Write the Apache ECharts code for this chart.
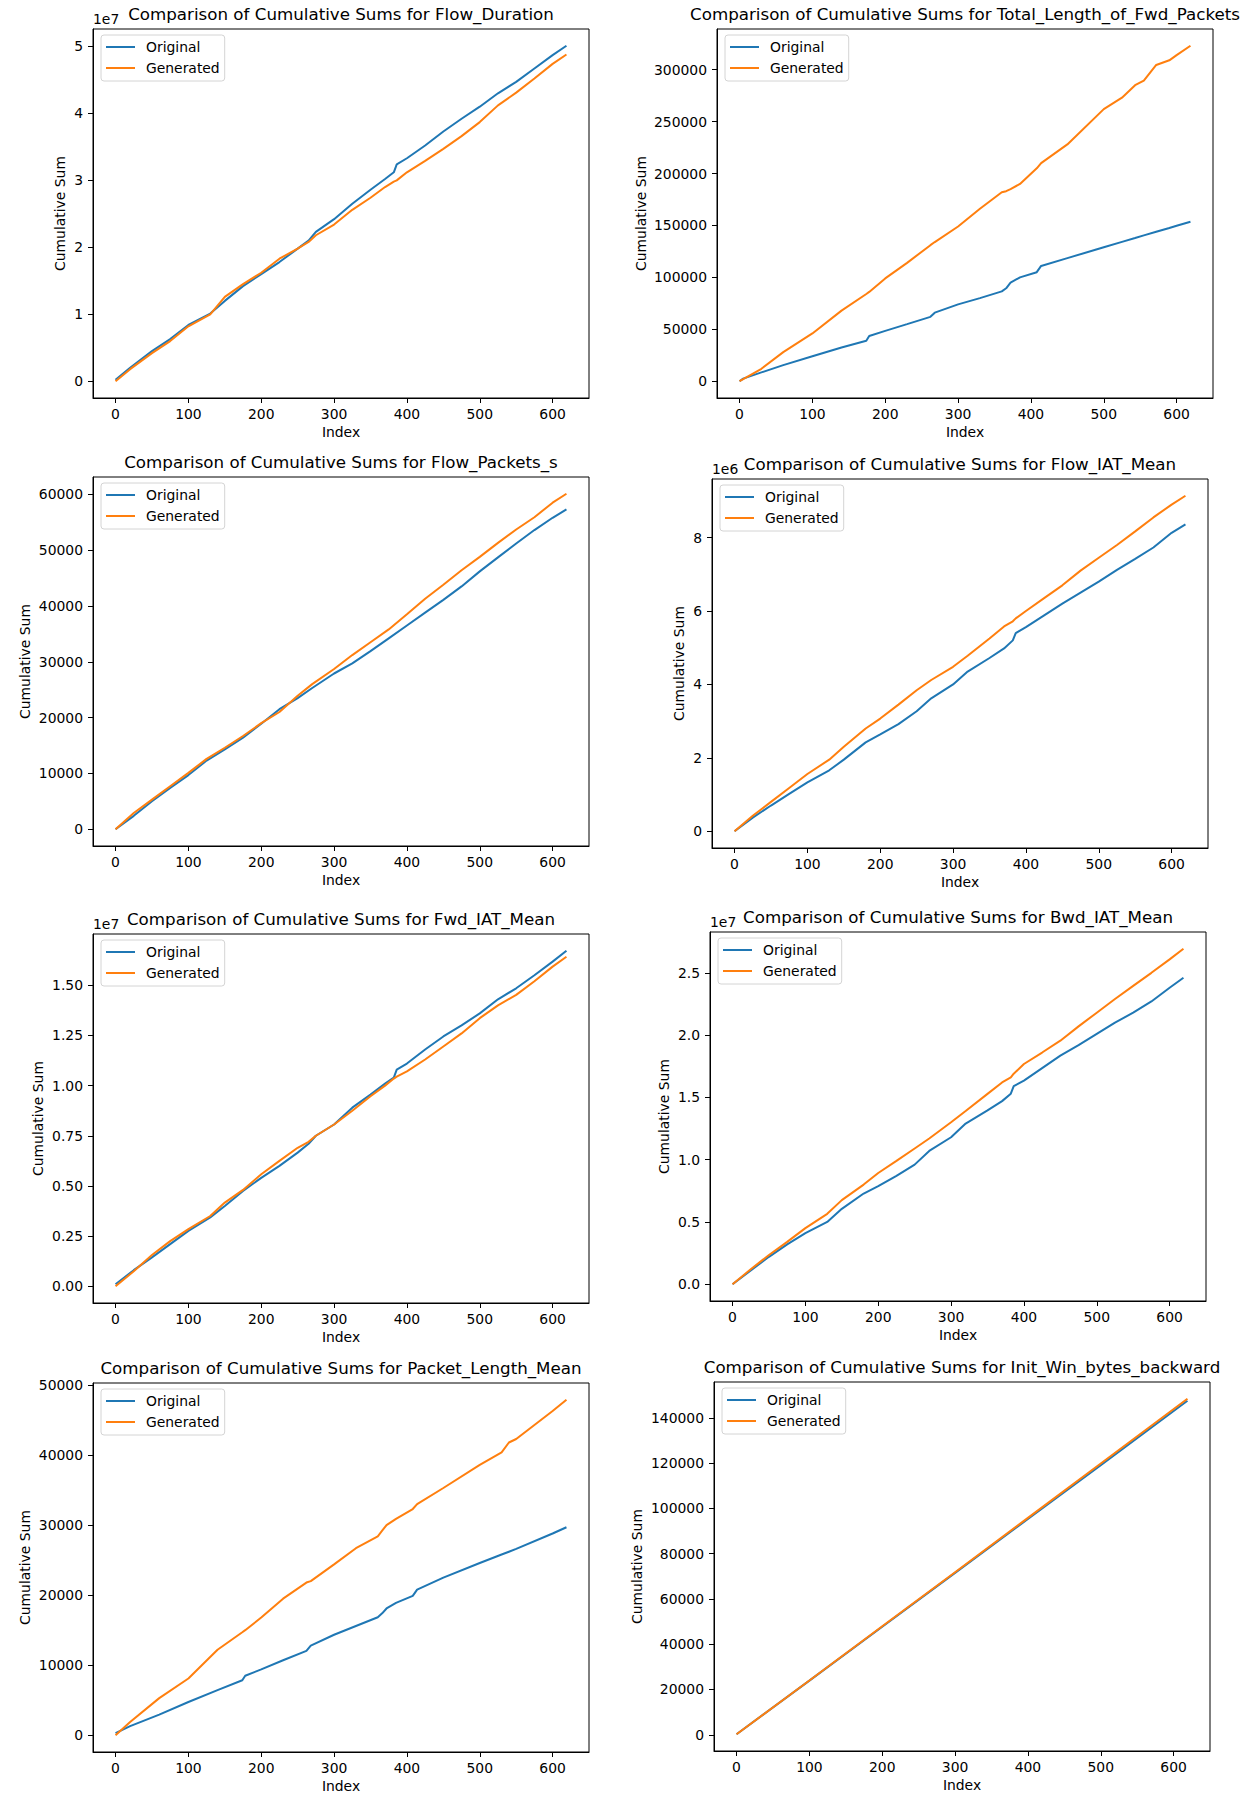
<!DOCTYPE html>
<html lang="en">
<head>
    <meta charset="UTF-8">
    <title>Comparison of Cumulative Sums</title>
    <script src="https://cdn.jsdelivr.net/npm/echarts@6.0.0/dist/echarts.min.js"></script>
    <style>
        body { margin: 0; background: #fff; }
        #main { width: 1254px; height: 1802px; }
    </style>
</head>
<body>
    <div id="main"></div>
    <script type="text/javascript">
        // values (index -> cumulative sum)
        const xTicks = [0, 100, 200, 300, 400, 500, 600];
        const lastIndex = 619;

        const flowDurationIdx = [0, 20, 50, 75, 100, 130, 150, 175, 200, 225, 250, 265, 275, 300, 325, 350, 370, 382, 386, 400, 425, 450, 475, 500, 525, 550, 575, 600, 619];
        const flowDurationOrig = [0.02e7, 0.2e7, 0.45e7, 0.63e7, 0.84e7, 1.01e7, 1.2e7, 1.42e7, 1.6e7, 1.78e7, 1.98e7, 2.1e7, 2.23e7, 2.42e7, 2.65e7, 2.86e7, 3.02e7, 3.12e7, 3.24e7, 3.33e7, 3.52e7, 3.73e7, 3.92e7, 4.1e7, 4.3e7, 4.47e7, 4.67e7, 4.87e7, 5.01e7];
        const flowDurationGen = [0, 0.18e7, 0.42e7, 0.6e7, 0.82e7, 1.0e7, 1.26e7, 1.45e7, 1.62e7, 1.83e7, 1.98e7, 2.08e7, 2.18e7, 2.34e7, 2.56e7, 2.74e7, 2.9e7, 2.98e7, 3.0e7, 3.12e7, 3.29e7, 3.47e7, 3.66e7, 3.87e7, 4.12e7, 4.31e7, 4.52e7, 4.74e7, 4.88e7];
        const flowDurationTicks = [0, 1e7, 2e7, 3e7, 4e7, 5e7];

        const fwdLenIdx = [0, 5, 30, 60, 100, 140, 174, 178, 200, 230, 262, 268, 300, 330, 360, 366, 372, 385, 408, 414, 450, 500, 525, 543, 555, 572, 590, 600, 619];
        const fwdLenOrig = [0, 2500, 8500, 15500, 24000, 32500, 39000, 43500, 48500, 55000, 62000, 66000, 74000, 80000, 86500, 89500, 95000, 100000, 105000, 111000, 118500, 129000, 134200, 137900, 140400, 143900, 147600, 149700, 153500];
        const fwdLenGen = [0, 2000, 12000, 28000, 46000, 68000, 84000, 86000, 99000, 114000, 131000, 134000, 149000, 166000, 182000, 183000, 185000, 190000, 205000, 210000, 228000, 262000, 273000, 285000, 289500, 304500, 309000, 314000, 323000];
        const fwdLenTicks = [0, 50000, 100000, 150000, 200000, 250000, 300000];

        const pktRateIdx = [0, 25, 50, 75, 100, 125, 150, 175, 200, 225, 250, 270, 300, 325, 350, 375, 400, 425, 450, 475, 500, 525, 550, 575, 600, 619];
        const pktRateOrig = [0, 2400, 5000, 7400, 9700, 12300, 14300, 16400, 18900, 21500, 23500, 25300, 27900, 29700, 31900, 34200, 36500, 38800, 41100, 43500, 46200, 48700, 51200, 53600, 55800, 57300];
        const pktRateGen = [0, 2900, 5300, 7700, 10100, 12600, 14600, 16700, 19000, 21000, 23900, 26000, 28700, 31200, 33500, 35800, 38500, 41300, 43800, 46400, 48800, 51300, 53700, 55900, 58500, 60100];
        const pktRateTicks = [0, 10000, 20000, 30000, 40000, 50000, 60000];

        const flowIatIdx = [0, 25, 50, 75, 100, 130, 150, 180, 200, 225, 250, 270, 300, 320, 350, 370, 382, 386, 400, 425, 450, 475, 500, 525, 550, 575, 600, 619];
        const flowIatOrig = [0, 0.37e6, 0.70e6, 1.02e6, 1.33e6, 1.66e6, 1.95e6, 2.42e6, 2.64e6, 2.92e6, 3.27e6, 3.62e6, 4.0e6, 4.35e6, 4.72e6, 4.98e6, 5.2e6, 5.4e6, 5.56e6, 5.88e6, 6.2e6, 6.5e6, 6.8e6, 7.12e6, 7.42e6, 7.73e6, 8.13e6, 8.36e6];
        const flowIatGen = [0, 0.42e6, 0.80e6, 1.18e6, 1.56e6, 1.95e6, 2.3e6, 2.8e6, 3.07e6, 3.45e6, 3.84e6, 4.12e6, 4.48e6, 4.78e6, 5.25e6, 5.58e6, 5.72e6, 5.8e6, 6.0e6, 6.35e6, 6.7e6, 7.1e6, 7.45e6, 7.8e6, 8.17e6, 8.55e6, 8.9e6, 9.14e6];
        const flowIatTicks = [0, 2e6, 4e6, 6e6, 8e6];

        const fwdIatIdx = [0, 25, 50, 75, 100, 130, 150, 175, 200, 225, 250, 265, 275, 300, 325, 350, 370, 382, 386, 400, 425, 450, 475, 500, 525, 550, 575, 600, 619];
        const fwdIatOrig = [0.01e7, 0.08e7, 0.144e7, 0.21e7, 0.276e7, 0.343e7, 0.40e7, 0.475e7, 0.54e7, 0.6e7, 0.666e7, 0.71e7, 0.75e7, 0.806e7, 0.89e7, 0.955e7, 1.01e7, 1.04e7, 1.08e7, 1.11e7, 1.18e7, 1.245e7, 1.3e7, 1.36e7, 1.43e7, 1.485e7, 1.55e7, 1.618e7, 1.672e7];
        const fwdIatGen = [0, 0.075e7, 0.156e7, 0.225e7, 0.285e7, 0.35e7, 0.417e7, 0.48e7, 0.558e7, 0.625e7, 0.69e7, 0.72e7, 0.75e7, 0.806e7, 0.875e7, 0.947e7, 1.0e7, 1.035e7, 1.045e7, 1.071e7, 1.13e7, 1.195e7, 1.26e7, 1.336e7, 1.4e7, 1.452e7, 1.52e7, 1.593e7, 1.642e7];
        const fwdIatTicks = [0, 0.25e7, 0.5e7, 0.75e7, 1.0e7, 1.25e7, 1.5e7];

        const bwdIatIdx = [0, 25, 50, 75, 100, 130, 150, 180, 200, 225, 250, 270, 300, 320, 350, 370, 382, 386, 400, 425, 450, 475, 500, 525, 550, 575, 600, 619];
        const bwdIatOrig = [0, 0.11e7, 0.22e7, 0.32e7, 0.41e7, 0.50e7, 0.605e7, 0.728e7, 0.787e7, 0.87e7, 0.96e7, 1.07e7, 1.18e7, 1.29e7, 1.395e7, 1.47e7, 1.53e7, 1.59e7, 1.635e7, 1.735e7, 1.835e7, 1.92e7, 2.01e7, 2.1e7, 2.18e7, 2.27e7, 2.38e7, 2.46e7];
        const bwdIatGen = [0, 0.12e7, 0.235e7, 0.34e7, 0.45e7, 0.565e7, 0.675e7, 0.8e7, 0.893e7, 0.99e7, 1.09e7, 1.17e7, 1.30e7, 1.39e7, 1.528e7, 1.62e7, 1.66e7, 1.69e7, 1.768e7, 1.86e7, 1.955e7, 2.07e7, 2.18e7, 2.29e7, 2.395e7, 2.5e7, 2.608e7, 2.693e7];
        const bwdIatTicks = [0, 0.5e7, 1.0e7, 1.5e7, 2.0e7, 2.5e7];

        const pktLenIdx = [0, 20, 60, 100, 140, 174, 178, 200, 230, 262, 268, 300, 330, 360, 366, 372, 385, 408, 414, 450, 500, 530, 540, 550, 600, 619];
        const pktLenOrig = [300, 1300, 2950, 4750, 6450, 7850, 8500, 9400, 10700, 12050, 12800, 14350, 15600, 16850, 17400, 18100, 18900, 19900, 20800, 22500, 24600, 25800, 26200, 26600, 28800, 29700];
        const pktLenGen = [0, 1900, 5300, 8100, 12200, 14700, 15000, 16800, 19500, 21800, 22000, 24400, 26700, 28400, 29200, 30000, 30900, 32300, 33000, 35300, 38600, 40400, 41800, 42300, 46300, 47900];
        const pktLenTicks = [0, 10000, 20000, 30000, 40000, 50000];

        const initWinIdx = [0, 100, 200, 300, 400, 500, 619];
        const initWinOrig = [240, 23900, 47700, 71500, 95300, 119100, 147500];
        const initWinGen = [240, 24000, 47900, 71800, 95800, 119800, 148400];
        const initWinTicks = [0, 20000, 40000, 60000, 80000, 100000, 120000, 140000];

        const panels = [
            { name: 'Flow_Duration', idx: flowDurationIdx, orig: flowDurationOrig, gen: flowDurationGen, ticks: flowDurationTicks, exp: 7, dec: 0 },
            { name: 'Total_Length_of_Fwd_Packets', idx: fwdLenIdx, orig: fwdLenOrig, gen: fwdLenGen, ticks: fwdLenTicks, exp: 0, dec: 0 },
            { name: 'Flow_Packets_s', idx: pktRateIdx, orig: pktRateOrig, gen: pktRateGen, ticks: pktRateTicks, exp: 0, dec: 0 },
            { name: 'Flow_IAT_Mean', idx: flowIatIdx, orig: flowIatOrig, gen: flowIatGen, ticks: flowIatTicks, exp: 6, dec: 0 },
            { name: 'Fwd_IAT_Mean', idx: fwdIatIdx, orig: fwdIatOrig, gen: fwdIatGen, ticks: fwdIatTicks, exp: 7, dec: 2 },
            { name: 'Bwd_IAT_Mean', idx: bwdIatIdx, orig: bwdIatOrig, gen: bwdIatGen, ticks: bwdIatTicks, exp: 7, dec: 1 },
            { name: 'Packet_Length_Mean', idx: pktLenIdx, orig: pktLenOrig, gen: pktLenGen, ticks: pktLenTicks, exp: 0, dec: 0 },
            { name: 'Init_Win_bytes_backward', idx: initWinIdx, orig: initWinOrig, gen: initWinGen, ticks: initWinTicks, exp: 0, dec: 0 }
        ];

        // axes boxes in pixels (left, top) and gap of the y axis name
        const boxes = [
            [93, 29, 26], [717, 29, 69],
            [93, 477, 61], [712, 479, 26],
            [93, 934, 48], [710, 932, 39],
            [93, 1383, 61], [714, 1382, 70]
        ];
        const W = 496, H = 369;
        const FONT = 'DejaVu Sans';
        const FS = 13.9;
        const BLUE = '#1f77b4', ORANGE = '#ff7f0e';

        let grid = [], xAxis = [], yAxis = [], series = [], legend = [], graphic = [];

        panels.forEach((p, i) => {
            const [L, T, nameGap] = boxes[i];
            const all = p.orig.concat(p.gen);
            const lo = Math.min(...all), hi = Math.max(...all);
            const pad = (hi - lo) * 0.05;
            const scale = Math.pow(10, p.exp);

            grid.push({ left: L, top: T, width: W, height: H, show: true, borderColor: '#000', borderWidth: 1 });

            xAxis.push({
                gridIndex: i, type: 'value',
                min: -lastIndex * 0.05, max: lastIndex * 1.05,
                name: 'Index', nameLocation: 'middle', nameGap: 27,
                nameTextStyle: { fontFamily: FONT, fontSize: FS, color: '#000' },
                axisLine: { show: true, onZero: false, lineStyle: { color: '#000', width: 1 } },
                axisTick: { show: true, length: 5, lineStyle: { color: '#000', width: 1 }, customValues: xTicks },
                axisLabel: { customValues: xTicks, margin: 9, color: '#000', fontFamily: FONT, fontSize: FS, formatter: v => String(v) },
                splitLine: { show: false }
            });

            yAxis.push({
                gridIndex: i, type: 'value',
                min: lo - pad, max: hi + pad,
                name: 'Cumulative Sum', nameLocation: 'middle', nameGap: nameGap,
                nameTextStyle: { fontFamily: FONT, fontSize: FS, color: '#000' },
                axisLine: { show: true, onZero: false, lineStyle: { color: '#000', width: 1 } },
                axisTick: { show: true, length: 5, lineStyle: { color: '#000', width: 1 }, customValues: p.ticks },
                axisLabel: {
                    customValues: p.ticks, margin: 10, color: '#000', fontFamily: FONT, fontSize: FS,
                    formatter: v => p.exp ? (v / scale).toFixed(p.dec) : String(Math.round(v))
                },
                splitLine: { show: false }
            });

            series.push({
                name: 'Original', type: 'line', xAxisIndex: i, yAxisIndex: i,
                data: p.idx.map((x, k) => [x, p.orig[k]]),
                symbol: 'none', lineStyle: { color: BLUE, width: 2 }, itemStyle: { color: BLUE }
            });
            series.push({
                name: 'Generated', type: 'line', xAxisIndex: i, yAxisIndex: i,
                data: p.idx.map((x, k) => [x, p.gen[k]]),
                symbol: 'none', lineStyle: { color: ORANGE, width: 2 }, itemStyle: { color: ORANGE }
            });

            legend.push({
                left: L + 8, top: T + 6, orient: 'vertical',
                data: ['Original', 'Generated'],
                itemWidth: 29, itemHeight: 14, itemGap: 7,
                padding: [5, 5, 6, 4],
                itemStyle: { opacity: 0 },
                borderColor: '#d4d4d4', borderWidth: 1, borderRadius: 3,
                backgroundColor: 'rgba(255,255,255,0.8)',
                selectedMode: false,
                textStyle: { fontFamily: FONT, fontSize: FS, color: '#000', padding: [0, 0, 0, 6] }
            });

            // subplot title
            graphic.push({
                type: 'text', x: L + W / 2, y: T - 7,
                style: {
                    text: 'Comparison of Cumulative Sums for ' + p.name,
                    fontFamily: FONT, fontSize: 16.7, fill: '#000',
                    textAlign: 'center', textVerticalAlign: 'bottom'
                }
            });
            // offset text like 1e7 above the y axis
            if (p.exp) {
                graphic.push({
                    type: 'text', x: L, y: T - 3,
                    style: {
                        text: '1e' + p.exp, fontFamily: FONT, fontSize: FS, fill: '#000',
                        textAlign: 'left', textVerticalAlign: 'bottom'
                    }
                });
            }
        });

        let myChart = echarts.init(document.getElementById('main'), null, { renderer: 'svg' });
        myChart.setOption({
            animation: false,
            backgroundColor: '#fff',
            grid: grid, xAxis: xAxis, yAxis: yAxis,
            legend: legend, series: series, graphic: graphic
        });
    </script>
</body>
</html>
